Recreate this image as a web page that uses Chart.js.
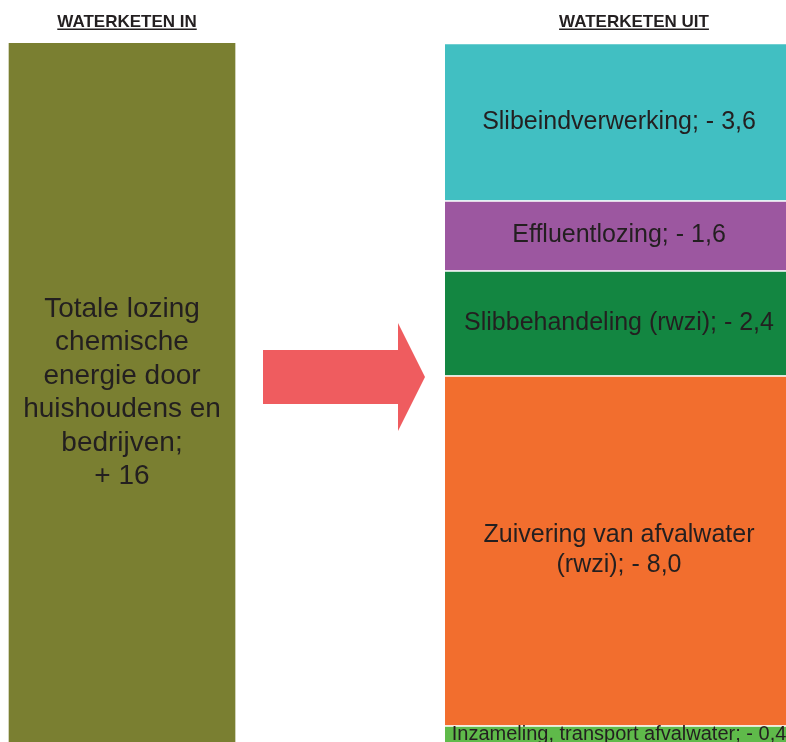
<!DOCTYPE html>
<html>
<head>
<meta charset="utf-8">
<script src="https://cdn.jsdelivr.net/npm/chart.js@4"></script>
<style>
	html, body { margin: 0; padding: 0; background: #fff; overflow: hidden; }
	#wrap { position: absolute; left: 0; top: 0; width: 786px; height: 760px; }
</style>
</head>
<body>
<div id="wrap"><canvas id="keten"></canvas></div>
<script>
// titels boven de kolommen
const columnTitles = ['WATERKETEN IN', 'WATERKETEN UIT'];

// waterketen in
const inName = ['Totale lozing', 'chemische', 'energie door', 'huishoudens en', 'bedrijven;'];
const inValue = 16;

// waterketen uit, van onder naar boven
const outNames = [
	['Inzameling, transport afvalwater;'],
	['Zuivering van afvalwater', '(rwzi);'],
	['Slibbehandeling (rwzi);'],
	['Effluentlozing;'],
	['Slibeindverwerking;']
];
const outValues = [0.4, 8.0, 2.4, 1.6, 3.6];
const outColors = ['#5fba4a', '#f26e2e', '#138641', '#9c57a0', '#41bfc2'];

const FONT = '"Liberation Sans", Arial, Helvetica, sans-serif';
const fmt = v => v.toFixed(Number.isInteger(v) && v >= 10 ? 0 : 1).replace('.', ',');

// tekstregels per segment
function inLines() {
	return inName.concat(['+ ' + fmt(inValue)]);
}
function outLines(i) {
	const lines = outNames[i].slice();
	lines[lines.length - 1] = lines[lines.length - 1] + ' - ' + fmt(outValues[i]);
	return lines;
}

const datasets = [{
	label: 'in',
	data: [{x: 0, y: inValue}],
	backgroundColor: '#7a7f31',
	barThickness: 226,
	borderWidth: 0,
	textLines: inLines(),
	fontSize: 28,
	lineHeight: 33.5
}];
outValues.forEach((v, i) => {
	datasets.push({
		label: outNames[i].join(' '),
		data: [{x: 1, y: v}],
		backgroundColor: outColors[i],
		borderColor: '#ffffff',
		borderWidth: {top: 1.5, bottom: 0, left: 0, right: 0},
		barThickness: 348,
		textLines: outLines(i),
		fontSize: i === 0 ? 20 : 25,
		lineHeight: 30
	});
});

const labelPlugin = {
	id: 'segmentLabels',
	afterDatasetsDraw(chart) {
		const ctx = chart.ctx;
		ctx.save();
		ctx.fillStyle = '#231f20';
		ctx.textAlign = 'center';
		ctx.textBaseline = 'middle';
		chart.data.datasets.forEach((ds, di) => {
			const el = chart.getDatasetMeta(di).data[0];
			const p = el.getProps(['x', 'y', 'base'], true);
			const cy = (p.y + p.base) / 2;
			const n = ds.textLines.length;
			ctx.font = ds.fontSize + 'px ' + FONT;
			ds.textLines.forEach((t, li) => {
				ctx.fillText(t, p.x, cy + (li - (n - 1) / 2) * ds.lineHeight);
			});
		});
		ctx.restore();
	}
};

const decorPlugin = {
	id: 'decor',
	afterDraw(chart) {
		const ctx = chart.ctx;
		ctx.save();
		// pijl
		ctx.fillStyle = '#ef5c5f';
		ctx.beginPath();
		ctx.moveTo(263, 350);
		ctx.lineTo(398, 350);
		ctx.lineTo(398, 323);
		ctx.lineTo(425, 377);
		ctx.lineTo(398, 431);
		ctx.lineTo(398, 404);
		ctx.lineTo(263, 404);
		ctx.closePath();
		ctx.fill();
		// titels, onderstreept
		ctx.fillStyle = '#231f20';
		ctx.strokeStyle = '#231f20';
		ctx.lineWidth = 1.4;
		ctx.font = 'bold 17px ' + FONT;
		ctx.textAlign = 'center';
		ctx.textBaseline = 'alphabetic';
		const xs = chart.scales.x;
		const shifts = [5, 15];
		columnTitles.forEach((t, i) => {
			const cx = xs.getPixelForValue(i) + shifts[i];
			const w = ctx.measureText(t).width;
			ctx.fillText(t, cx, 27);
			ctx.beginPath();
			ctx.moveTo(cx - w / 2, 29.3);
			ctx.lineTo(cx + w / 2, 29.3);
			ctx.stroke();
		});
		ctx.restore();
	}
};

function draw() {
	new Chart(document.getElementById('keten'), {
		type: 'bar',
		data: { datasets: datasets },
		options: {
			responsive: true,
			maintainAspectRatio: false,
			animation: false,
			layout: { padding: {top: 43, bottom: 17, left: 0, right: 0} },
			plugins: {
				legend: {display: false},
				tooltip: {enabled: false}
			},
			scales: {
				x: { type: 'linear', min: -0.2455, max: 1.336, offset: false, stacked: true, display: false },
				y: { min: 0, max: 16, stacked: true, display: false }
			}
		},
		plugins: [labelPlugin, decorPlugin]
	});
}

Promise.all([
	document.fonts.load('25px "Liberation Sans"'),
	document.fonts.load('bold 17px "Liberation Sans"')
]).then(draw, draw);
</script>
</body>
</html>
